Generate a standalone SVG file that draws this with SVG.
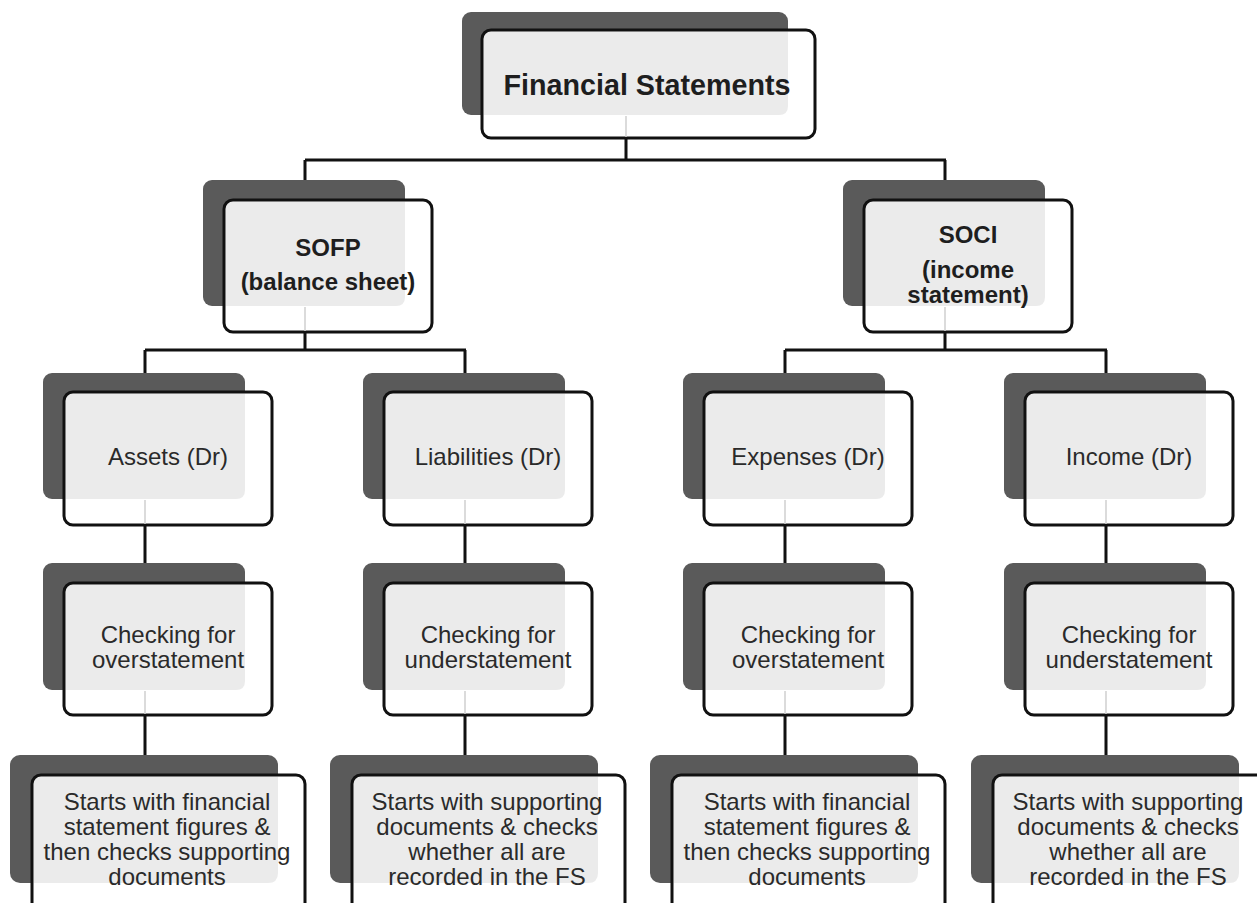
<svg xmlns="http://www.w3.org/2000/svg" width="1257" height="903" viewBox="0 0 1257 903">
  <style>
    .back { fill: #5a5a5a; }
    .face { fill: #ffffff; }
    .tint { fill: #ebebeb; }
    .edge { fill: none; stroke: #111111; stroke-width: 3; }
    .link { fill: none; stroke: #111111; stroke-width: 3; }
    .ghost { fill: none; stroke: #cfcfcf; stroke-width: 1.5; }
    .hd { font-family: "Liberation Sans", Arial, sans-serif; font-weight: bold; fill: #1e1e1e; text-anchor: middle; }
    .tx { font-family: "Liberation Sans", Arial, sans-serif; font-size: 24px; fill: #2a2a2a; text-anchor: middle; }
  </style>

  <rect width="1257" height="903" fill="#ffffff"/>

  <!-- Root -->
  <g id="node-financial-statements">
    <rect class="back" x="462" y="12" width="326" height="103" rx="9"/>
    <rect class="face" x="482" y="30" width="333" height="108" rx="9"/>
    <path class="tint" d="M491 31.5 H788 V106 Q788 115 779 115 H483.5 V40 Q483.5 31.5 491 31.5 Z"/>
    <rect class="edge" x="482" y="30" width="333" height="108" rx="9"/>
    <text class="hd" x="647" y="95" font-size="28.7">Financial Statements</text>
  </g>

  <!-- Level 2 -->
  <g id="node-sofp">
    <rect class="back" x="203" y="180" width="202" height="126" rx="9"/>
    <rect class="face" x="224" y="200" width="208" height="132" rx="9"/>
    <path class="tint" d="M233 201.5 H405 V297 Q405 306 396 306 H225.5 V210 Q225.5 201.5 233 201.5 Z"/>
    <rect class="edge" x="224" y="200" width="208" height="132" rx="9"/>
    <text class="hd" x="328" y="256" font-size="24">SOFP</text>
    <text class="hd" x="328" y="290" font-size="24">(balance sheet)</text>
  </g>

  <g id="node-soci">
    <rect class="back" x="843" y="180" width="202" height="126" rx="9"/>
    <rect class="face" x="864" y="200" width="208" height="132" rx="9"/>
    <path class="tint" d="M873 201.5 H1045 V297 Q1045 306 1036 306 H865.5 V210 Q865.5 201.5 873 201.5 Z"/>
    <rect class="edge" x="864" y="200" width="208" height="132" rx="9"/>
    <text class="hd" x="968" y="243" font-size="24">SOCI</text>
    <text class="hd" x="968" y="278" font-size="24">(income</text>
    <text class="hd" x="968" y="303" font-size="24">statement)</text>
  </g>

  <!-- Level 3 : account classes (c = 145, 465, 785, 1106) -->
  <g id="node-assets" transform="translate(145 0)">
    <rect class="back" x="-102" y="373" width="202" height="126" rx="9"/>
    <rect class="face" x="-81" y="392" width="208" height="133" rx="9"/>
    <path class="tint" d="M-72 393.5 H100 V490 Q100 499 91 499 H-79.5 V402 Q-79.5 393.5 -72 393.5 Z"/>
    <rect class="edge" x="-81" y="392" width="208" height="133" rx="9"/>
    <text class="tx" x="23" y="465">Assets (Dr)</text>
  </g>

  <g id="node-liabilities" transform="translate(465 0)">
    <rect class="back" x="-102" y="373" width="202" height="126" rx="9"/>
    <rect class="face" x="-81" y="392" width="208" height="133" rx="9"/>
    <path class="tint" d="M-72 393.5 H100 V490 Q100 499 91 499 H-79.5 V402 Q-79.5 393.5 -72 393.5 Z"/>
    <rect class="edge" x="-81" y="392" width="208" height="133" rx="9"/>
    <text class="tx" x="23" y="465">Liabilities (Dr)</text>
  </g>

  <g id="node-expenses" transform="translate(785 0)">
    <rect class="back" x="-102" y="373" width="202" height="126" rx="9"/>
    <rect class="face" x="-81" y="392" width="208" height="133" rx="9"/>
    <path class="tint" d="M-72 393.5 H100 V490 Q100 499 91 499 H-79.5 V402 Q-79.5 393.5 -72 393.5 Z"/>
    <rect class="edge" x="-81" y="392" width="208" height="133" rx="9"/>
    <text class="tx" x="23" y="465">Expenses (Dr)</text>
  </g>

  <g id="node-income" transform="translate(1106 0)">
    <rect class="back" x="-102" y="373" width="202" height="126" rx="9"/>
    <rect class="face" x="-81" y="392" width="208" height="133" rx="9"/>
    <path class="tint" d="M-72 393.5 H100 V490 Q100 499 91 499 H-79.5 V402 Q-79.5 393.5 -72 393.5 Z"/>
    <rect class="edge" x="-81" y="392" width="208" height="133" rx="9"/>
    <text class="tx" x="23" y="465">Income (Dr)</text>
  </g>

  <!-- Level 4 : direction of testing -->
  <g id="node-check-assets" transform="translate(145 0)">
    <rect class="back" x="-102" y="563" width="202" height="127" rx="9"/>
    <rect class="face" x="-81" y="583" width="208" height="132" rx="9"/>
    <path class="tint" d="M-72 584.5 H100 V681 Q100 690 91 690 H-79.5 V593 Q-79.5 584.5 -72 584.5 Z"/>
    <rect class="edge" x="-81" y="583" width="208" height="132" rx="9"/>
    <text class="tx" x="23" y="643">Checking for</text>
    <text class="tx" x="23" y="668">overstatement</text>
  </g>

  <g id="node-check-liabilities" transform="translate(465 0)">
    <rect class="back" x="-102" y="563" width="202" height="127" rx="9"/>
    <rect class="face" x="-81" y="583" width="208" height="132" rx="9"/>
    <path class="tint" d="M-72 584.5 H100 V681 Q100 690 91 690 H-79.5 V593 Q-79.5 584.5 -72 584.5 Z"/>
    <rect class="edge" x="-81" y="583" width="208" height="132" rx="9"/>
    <text class="tx" x="23" y="643">Checking for</text>
    <text class="tx" x="23" y="668">understatement</text>
  </g>

  <g id="node-check-expenses" transform="translate(785 0)">
    <rect class="back" x="-102" y="563" width="202" height="127" rx="9"/>
    <rect class="face" x="-81" y="583" width="208" height="132" rx="9"/>
    <path class="tint" d="M-72 584.5 H100 V681 Q100 690 91 690 H-79.5 V593 Q-79.5 584.5 -72 584.5 Z"/>
    <rect class="edge" x="-81" y="583" width="208" height="132" rx="9"/>
    <text class="tx" x="23" y="643">Checking for</text>
    <text class="tx" x="23" y="668">overstatement</text>
  </g>

  <g id="node-check-income" transform="translate(1106 0)">
    <rect class="back" x="-102" y="563" width="202" height="127" rx="9"/>
    <rect class="face" x="-81" y="583" width="208" height="132" rx="9"/>
    <path class="tint" d="M-72 584.5 H100 V681 Q100 690 91 690 H-79.5 V593 Q-79.5 584.5 -72 584.5 Z"/>
    <rect class="edge" x="-81" y="583" width="208" height="132" rx="9"/>
    <text class="tx" x="23" y="643">Checking for</text>
    <text class="tx" x="23" y="668">understatement</text>
  </g>

  <!-- Level 5 : procedure descriptions (run off the bottom edge) -->
  <g id="node-proc-assets" transform="translate(145 0)">
    <rect class="back" x="-135" y="755" width="268" height="128" rx="10"/>
    <rect class="face" x="-113" y="775" width="273" height="140" rx="9"/>
    <path class="tint" d="M-104 776.5 H133 V873 Q133 883 123 883 H-111.5 V785 Q-111.5 776.5 -104 776.5 Z"/>
    <rect class="edge" x="-113" y="775" width="273" height="140" rx="9"/>
    <text class="tx" x="22" y="810">Starts with financial</text>
    <text class="tx" x="22" y="835">statement figures &amp;</text>
    <text class="tx" x="22" y="860">then checks supporting</text>
    <text class="tx" x="22" y="885">documents</text>
  </g>

  <g id="node-proc-liabilities" transform="translate(465 0)">
    <rect class="back" x="-135" y="755" width="268" height="128" rx="10"/>
    <rect class="face" x="-113" y="775" width="273" height="140" rx="9"/>
    <path class="tint" d="M-104 776.5 H133 V873 Q133 883 123 883 H-111.5 V785 Q-111.5 776.5 -104 776.5 Z"/>
    <rect class="edge" x="-113" y="775" width="273" height="140" rx="9"/>
    <text class="tx" x="22" y="810">Starts with supporting</text>
    <text class="tx" x="22" y="835">documents &amp; checks</text>
    <text class="tx" x="22" y="860">whether all are</text>
    <text class="tx" x="22" y="885">recorded in the FS</text>
  </g>

  <g id="node-proc-expenses" transform="translate(785 0)">
    <rect class="back" x="-135" y="755" width="268" height="128" rx="10"/>
    <rect class="face" x="-113" y="775" width="273" height="140" rx="9"/>
    <path class="tint" d="M-104 776.5 H133 V873 Q133 883 123 883 H-111.5 V785 Q-111.5 776.5 -104 776.5 Z"/>
    <rect class="edge" x="-113" y="775" width="273" height="140" rx="9"/>
    <text class="tx" x="22" y="810">Starts with financial</text>
    <text class="tx" x="22" y="835">statement figures &amp;</text>
    <text class="tx" x="22" y="860">then checks supporting</text>
    <text class="tx" x="22" y="885">documents</text>
  </g>

  <g id="node-proc-income" transform="translate(1106 0)">
    <rect class="back" x="-135" y="755" width="268" height="128" rx="10"/>
    <rect class="face" x="-113" y="775" width="273" height="140" rx="9"/>
    <path class="tint" d="M-104 776.5 H133 V873 Q133 883 123 883 H-111.5 V785 Q-111.5 776.5 -104 776.5 Z"/>
    <rect class="edge" x="-113" y="775" width="273" height="140" rx="9"/>
    <text class="tx" x="22" y="810">Starts with supporting</text>
    <text class="tx" x="22" y="835">documents &amp; checks</text>
    <text class="tx" x="22" y="860">whether all are</text>
    <text class="tx" x="22" y="885">recorded in the FS</text>
  </g>

  <!-- Connectors -->
  <g id="connectors">
    <!-- faint continuation seen through each box face -->
    <path class="ghost" d="M626 116 V137 M305 307 V331 M945 307 V331
                           M145 500 V524 M465 500 V524 M785 500 V524 M1106 500 V524
                           M145 691 V714 M465 691 V714 M785 691 V714 M1106 691 V714"/>
    <!-- root to level 2 -->
    <path class="link" d="M626 138 V160 M305 160 H946 M305 160 V180 M945 160 V180"/>
    <!-- SOFP branch -->
    <path class="link" d="M305 333 V350 M145 350 H466 M145 350 V373 M465 350 V373"/>
    <!-- SOCI branch -->
    <path class="link" d="M945 333 V350 M785 350 H1107 M785 350 V373 M1106 350 V373"/>
    <!-- level 3 to level 4 -->
    <path class="link" d="M145 525 V563 M465 525 V563 M785 525 V563 M1106 525 V563"/>
    <!-- level 4 to level 5 -->
    <path class="link" d="M145 715 V755 M465 715 V755 M785 715 V755 M1106 715 V755"/>
  </g>
</svg>
